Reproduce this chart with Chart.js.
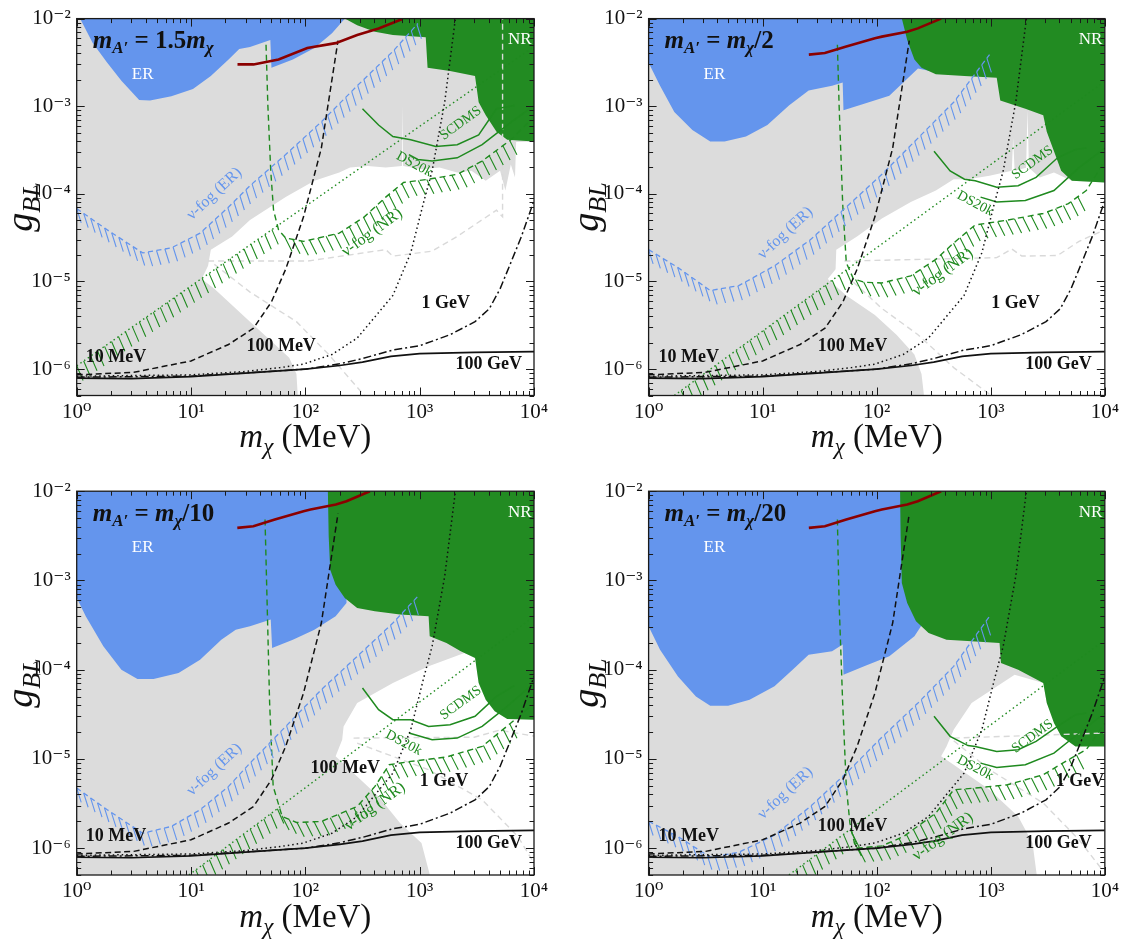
<!DOCTYPE html>
<html>
<head>
<meta charset="utf-8">
<title>g_BL sensitivity</title>
<script src="https://cdn.jsdelivr.net/npm/chart.js@4.4.1/dist/chart.umd.min.js"></script>
<style>
  html, body { margin: 0; padding: 0; background: #fff; }
  #wrap { position: relative; width: 1123px; height: 942px; overflow: hidden; }
  canvas { position: absolute; }
</style>
</head>
<body>
<div id="wrap">
  <canvas id="p1" width="561" height="470" style="left:0;top:0"></canvas>
  <canvas id="p2" width="562" height="470" style="left:561px;top:0"></canvas>
  <canvas id="p3" width="561" height="472" style="left:0;top:470px"></canvas>
  <canvas id="p4" width="562" height="472" style="left:561px;top:470px"></canvas>
</div>
<script>
const SERIF = '"Liberation Serif", "DejaVu Serif", serif';
const GREY = '#dcdcdc', BLUE = '#6495ed', GREEN = '#228b22', LINEGREEN = '#1f8a1f';
const RED = '#8b0000', LIGHT = '#d9d9d9', INK = '#111';

const xTicks = [1, 10, 100, 1000, 10000];
const yTicks = [1e-6, 1e-5, 1e-4, 1e-3, 1e-2];

// curves shared by all four panels (x in MeV, y = g_BL)
const dm10MeV = [[1,8.6e-7],[3.16,9.2e-7],[10,1.24e-6],[21.3,1.91e-6],[35.2,2.93e-6],[50.5,5.84e-6],[67.3,1.38e-5],[96.4,5.47e-5],[138,3.33e-4],[193,5.6e-3]];
const dm100MeV = [[1,8.3e-7],[10,8.6e-7],[30,9.4e-7],[60,1.04e-6],[96,1.14e-6],[171,1.47e-6],[284,2.26e-6],[583,6.93e-6],[835,2.12e-5],[1075,7.73e-5],[1285,1.83e-4],[1655,1.11e-3],[2053,1e-2]];
const dm1GeV = [[1,8.1e-7],[10,8.3e-7],[100,1.0e-6],[200,1.15e-6],[316,1.32e-6],[583,1.65e-6],[1000,1.85e-6],[1845,2.47e-6],[3050,3.48e-6],[4070,4.9e-6],[5050,8.24e-6],[6270,1.64e-5],[7770,3.27e-5],[10000,8.4e-5]];
const dm100GeV = [[1,7.9e-7],[3,7.8e-7],[10,8.2e-7],[30,9.0e-7],[100,1.0e-6],[200,1.1e-6],[316,1.2e-6],[560,1.4e-6],[1000,1.5e-6],[3000,1.55e-6],[10000,1.58e-6]];
const redLine = [[25.4,3.88e-3],[35.1,4.04e-3],[54.1,4.81e-3],[96.4,5.97e-3],[111,6.23e-3],[185,7.08e-3],[229,7.73e-3],[367,1e-2]];

// panel 1: m_A' = 1.5 m_chi
const redLine1 = [[25.5,3.0e-3],[35.2,3.0e-3],[58.3,3.41e-3],[104,4.61e-3],[184,5.25e-3],[284,6.5e-3],[437,7.73e-3],[698,9.84e-3]];
const grey1 = [[1,1.2e-2],[10000,1.2e-2],[10000,3.96e-4],[6980,3.9e-4],[6820,1.54e-4],[6270,2.17e-4],[5620,1.09e-4],[5050,1.83e-4],[3780,1.41e-4],[2840,1.83e-4],[2130,1.75e-4],[1490,2.0e-4],[1040,1.91e-4],[716,2.08e-4],[708,1.02e-3],[700,2.08e-4],[505,2.0e-4],[352,2.08e-4],[246,2.0e-4],[198,1.75e-4],[120,1.41e-4],[67.3,9.18e-5],[32.8,5.02e-5],[22.9,3.27e-5],[14.9,2.31e-5],[14.1,1.51e-5],[12.4,1.07e-5],[16.0,8.24e-6],[32.8,3.48e-6],[50.5,2.08e-6],[72.3,1.35e-6],[83.6,8.79e-7],[86.7,4e-7],[1,4e-7]];
const er1 = [[1.07,1.2e-2],[1.07,1e-2],[1.38,5.25e-3],[1.85,3.13e-3],[2.46,1.95e-3],[3.52,1.18e-3],[4.38,1.16e-3],[6.73,1.3e-3],[10.4,1.57e-3],[14.9,2.22e-3],[21.3,3.41e-3],[26.4,4.49e-3],[32.8,4.73e-3],[49.4,5.71e-3],[50.5,2.75e-3],[77.8,3.41e-3],[120,4.61e-3],[171,6.79e-3],[222,1e-2],[222,1.2e-2]];
const nr1 = [[10000,1.2e-2],[221,1.2e-2],[221,1e-2],[284,8.41e-3],[406,7.08e-3],[583,6.5e-3],[1130,6.12e-3],[1172,2.75e-3],[1845,2.52e-3],[3048,2.22e-3],[3281,1.11e-3],[3784,7.89e-4],[4699,5.13e-4],[5834,4.14e-4],[10000,3.96e-4]];
const nrFog1 = [[45.3,5.02e-3],[47,1.02e-3],[49.8,1.83e-4],[52.7,6.5e-5],[58.3,3.88e-5],[67.3,3.13e-5],[96.4,2.87e-5],[198,3.56e-5],[328,5.47e-5],[505,9.18e-5],[723,1.35e-4],[1197,1.47e-4],[2130,1.67e-4],[3520,2.37e-4],[6270,4.14e-4],[10000,7.6e-4]];
const nrDot1 = [[1,1.09e-6],[10,8.9e-6],[100,7.2e-5],[1000,5.9e-4],[10000,4.8e-3]];
const erFog1 = [[1,6.79e-5],[1.85,3.88e-5],[3.78,2.12e-5],[6.73,2.42e-5],[12,3.56e-5],[21.3,7.08e-5],[32.8,1.24e-4],[67.3,2.81e-4],[138,6.64e-4],[284,1.71e-3],[583,4.23e-3],[964,8.79e-3]];
const scdms1 = [[316,9.37e-4],[437,6.1e-4],[583,4.51e-4],[835,4.14e-4],[1383,3.48e-4],[2130,3.64e-4],[3281,4.71e-4],[4700,9.37e-4],[6730,1.02e-3]];
const ds20k1 = [[805,2.81e-4],[964,2.47e-4],[1285,2.37e-4],[2130,2.58e-4],[3520,3.64e-4],[5830,6.1e-4],[10000,1.02e-3]];
const lightA1 = [[14.1,1.71e-5],[104,1.71e-5],[505,2.31e-5],[583,1.95e-5],[1285,2.22e-5],[2130,3.27e-5],[4700,6.5e-5],[5310,5.47e-5],[5310,1e-2]];
const lightB1 = [[16,1.57e-5],[32.8,7.57e-6],[83.6,3.48e-6],[160,1.47e-6],[328,5e-7]];

// panel 2: m_A' = m_chi / 2
const grey2 = [[1,1.2e-2],[10000,1.2e-2],[10000,1.35e-4],[5140,1.41e-4],[4450,1.54e-4],[3581,1.75e-4],[2685,1.54e-4],[2160,1.99e-4],[2100,9e-4],[2040,1.99e-4],[1618,1.83e-4],[1570,4.33e-4],[1528,1.83e-4],[975,1.61e-4],[632,1.47e-4],[473,1.47e-4],[330,1.09e-4],[199,8.07e-5],[111,5.25e-5],[67.2,3.27e-5],[44.2,2.31e-5],[43.6,1.38e-5],[37.2,1.07e-5],[54.1,6.93e-6],[96.4,4.14e-6],[149,2.47e-6],[214,1.47e-6],[247,8.79e-7],[265,4e-7],[1,4e-7]];
const er2 = [[1,1.2e-2],[1,3.13e-3],[1.26,1.71e-3],[1.68,8.61e-4],[2.42,5.36e-4],[3.47,3.96e-4],[4.63,3.96e-4],[7.14,4.51e-4],[11,6.1e-4],[17,1.02e-3],[25.3,1.51e-3],[40.6,1.71e-3],[50.3,1.87e-3],[51.1,8.97e-4],[77.6,1.07e-3],[129,1.32e-3],[230,2.7e-3],[300,2.5e-3],[300,1.2e-2]];
const nr2 = [[10000,1.2e-2],[166,1.2e-2],[166,1e-2],[185,5.71e-3],[214,3.41e-3],[247,2.75e-3],[330,2.31e-3],[588,2.22e-3],[1127,2.12e-3],[1211,1.16e-3],[2010,9.37e-4],[2884,7.89e-4],[3097,5.13e-4],[3581,3.06e-4],[4140,1.83e-4],[5140,1.41e-4],[10000,1.35e-4]];
const nrFog2 = [[45.2,5.02e-3],[46.8,1.02e-3],[50.3,7.73e-5],[54.1,1.64e-5],[62.5,1.07e-5],[77.6,9.8e-6],[111,9.62e-6],[199,1.16e-5],[330,1.79e-5],[473,2.75e-5],[730,4.42e-5],[1400,5.02e-5],[2884,5.97e-5],[4790,7.73e-5],[6870,1.09e-4],[10000,2.38e-4]];
const nrDot2 = [[1.68,5e-7],[10,2.72e-6],[100,2.43e-5],[1000,2.16e-4],[10000,1.93e-3]];
const erFog2 = [[1,2.31e-5],[1.81,1.44e-5],[3.47,7.89e-6],[6.18,8.97e-6],[12.7,1.51e-5],[26.2,3.0e-5],[54.1,7.08e-5],[111,1.67e-4],[230,4.33e-4],[473,1.11e-3],[975,3.88e-3]];
const scdms2 = [[318,3.06e-4],[440,1.83e-4],[588,1.47e-4],[730,1.41e-4],[1127,1.19e-4],[1738,1.24e-4],[2495,1.54e-4],[3850,2.58e-4],[5530,3.2e-4],[6870,3.33e-4]];
const ds20k2 = [[814,9.18e-5],[1127,8.07e-5],[2010,8.41e-5],[3581,1.09e-4],[5940,1.99e-4],[10000,3.33e-4]];
const lightA2 = [[52.1,1.71e-5],[1127,1.87e-5],[1528,2.35e-5],[1870,1.95e-5],[3850,1.98e-5],[5940,2.87e-5],[10000,3.9e-5]];
const lightB2 = [[62.5,9.8e-6],[111,4.92e-6],[230,2.47e-6],[473,1.04e-6],[1010,5e-7]];

// panel 3: m_A' = m_chi / 10
const grey3 = [[1,1.2e-2],[10000,1.2e-2],[10000,2.75e-5],[3784,4.61e-5],[3281,7.08e-5],[3050,1.41e-4],[2460,1.54e-4],[1197,1.09e-4],[583,7.08e-5],[284,4.23e-5],[216,2.31e-5],[210,1.64e-5],[184,1.07e-5],[284,6.37e-6],[437,3.8e-6],[673,1.91e-6],[1037,1.14e-6],[1285,4e-7],[1,4e-7]];
const er3 = [[1,1.2e-2],[1,6.4e-4],[1.2,3.96e-4],[1.71,1.83e-4],[2.46,1.0e-4],[3.4,7.85e-5],[4.7,7.85e-5],[7.78,9.18e-5],[12,1.29e-4],[18.4,2.17e-4],[24.6,2.81e-4],[32.8,3.06e-4],[49.8,3.64e-4],[51.2,1.75e-4],[77.8,2.17e-4],[120,2.81e-4],[184,3.96e-4],[229,5.6e-4],[229,1.2e-2]];
const nr3 = [[10000,1.2e-2],[157,1.2e-2],[160,3.13e-3],[165,1.32e-3],[184,8.97e-4],[221,6.37e-4],[284,4.92e-4],[406,4.51e-4],[673,4.14e-4],[1197,3.96e-4],[1224,2.37e-4],[1714,1.99e-4],[2287,1.61e-4],[3050,1.35e-4],[3281,7.08e-5],[3784,4.61e-5],[4530,3.41e-5],[5830,2.8e-5],[10000,2.75e-5]];
const nrFog3 = [[44.4,4.81e-3],[46.3,5.6e-4],[48.7,4.23e-5],[52.3,4.92e-6],[62.7,2.26e-6],[83.6,1.94e-6],[138,1.99e-6],[284,2.93e-6],[406,4.92e-6],[542,8.61e-6],[835,9.37e-6],[1714,1.05e-5],[3520,1.38e-5],[6270,2.52e-5],[10000,4.2e-5]];
const nrDot3 = [[9.6,5e-7],[100,4.75e-6],[1000,4.34e-5],[10000,3.95e-4]];
const erFog3 = [[1,4.71e-6],[1.85,2.69e-6],[3.78,1.47e-6],[6.73,1.75e-6],[12,2.69e-6],[21.3,4.92e-6],[32.8,8.97e-6],[67.3,2.31e-5],[138,5.97e-5],[284,1.41e-4],[583,3.33e-4],[964,6.64e-4]];
const scdms3 = [[316,6.22e-5],[437,3.56e-5],[583,2.75e-5],[835,2.75e-5],[1197,2.31e-5],[1845,2.42e-5],[3050,3.0e-5],[4700,5.02e-5],[6730,6.62e-5]];
const ds20k3 = [[805,1.95e-5],[1285,1.64e-5],[2130,1.71e-5],[3520,2.31e-5],[5830,3.88e-5],[10000,7.08e-5]];
const lightA3 = [[264,1.71e-5],[3000,1.75e-5],[5000,2.1e-5],[10000,1.8e-5]];
const lightB3 = [[284,1.5e-5],[1197,7.57e-6],[3520,3.48e-6],[7230,1.35e-6],[10000,6.8e-7]];

// panel 4: m_A' = m_chi / 20
const grey4 = [[1,1.2e-2],[10000,1.2e-2],[10000,1.38e-5],[4140,1.79e-5],[3097,4.23e-5],[2884,7.08e-5],[1618,8.79e-5],[679,4.23e-5],[473,2.12e-5],[409,1.38e-5],[367,1.07e-5],[473,8.61e-6],[975,4.51e-6],[1738,2.26e-6],[2323,1.14e-6],[2588,4e-7],[1,4e-7]];
const er4 = [[1,1.2e-2],[1,3.06e-4],[1.26,1.67e-4],[1.81,8.41e-5],[2.6,5.02e-5],[3.47,3.94e-5],[4.98,3.94e-5],[7.68,4.61e-5],[12.7,6.5e-5],[18.3,1.0e-4],[25.3,1.47e-4],[40.6,1.61e-4],[50.3,1.91e-4],[51.1,8.79e-5],[77.6,1.09e-4],[129,1.41e-4],[214,2.37e-4],[250,3.2e-4],[250,1.2e-2]];
const nr4 = [[10000,1.2e-2],[160,1.2e-2],[162,3.13e-3],[166,9.37e-4],[185,5.6e-4],[221,3.48e-4],[285,2.58e-4],[409,2.17e-4],[679,2.08e-4],[1194,1.99e-4],[1228,1.19e-4],[1738,1.0e-4],[2884,7.08e-5],[3097,4.23e-5],[3581,2.52e-5],[4140,1.79e-5],[5530,1.38e-5],[10000,1.38e-5]];
const nrFog4 = [[45.2,4.81e-3],[46.8,5.6e-4],[50.3,4.23e-5],[54.1,4.92e-6],[58.2,1.91e-6],[64.8,1.04e-6],[67.2,1.0e-6],[111,1.06e-6],[172,1.35e-6],[330,2.47e-6],[473,4.51e-6],[730,4.71e-6],[1400,5.13e-6],[2884,6.64e-6],[4790,9.8e-6],[6870,1.27e-5],[10000,2.5e-5]];
const nrDot4 = [[17,5e-7],[100,2.7e-6],[1000,2.41e-5],[10000,2.15e-4]];
const erFog4 = [[1,2.0e-6],[1.81,1.35e-6],[3.47,7.9e-7],[6.18,9.0e-7],[12.7,1.4e-6],[26.2,2.93e-6],[54.1,6.93e-6],[111,1.75e-5],[230,4.23e-5],[473,1.09e-4],[975,3.96e-4]];
const scdms4 = [[318,3.0e-5],[440,1.79e-5],[631,1.41e-5],[730,1.38e-5],[1127,1.21e-5],[1738,1.27e-5],[2495,1.57e-5],[3850,2.31e-5],[5530,3.13e-5],[6870,3.27e-5]];
const ds20k4 = [[814,8.97e-6],[1127,8.03e-6],[2010,8.61e-6],[3581,1.16e-5],[5940,1.95e-5],[10000,3.27e-5]];
const lightA4 = [[473,1.71e-5],[10000,1.95e-5]];
const lightB4 = [[473,1.6e-5],[975,7.57e-6],[2884,3.2e-6],[5940,1.24e-6],[9500,5.7e-7]];

// dark matter mass labels, one list per panel: [text, x, y] (left edge, middle)
const massLabels1 = [['10 MeV',1.2,1.35e-6],['100 MeV',30.5,1.83e-6],['1 GeV',1037,5.6e-6],['100 GeV',2053,1.14e-6]];
const massLabels2 = [['10 MeV',1.22,1.35e-6],['100 MeV',30.4,1.83e-6],['1 GeV',1012,5.6e-6],['100 GeV',2010,1.14e-6]];
const massLabels3 = [['10 MeV',1.2,1.35e-6],['100 MeV',111,7.9e-6],['1 GeV',1000,5.6e-6],['100 GeV',2053,1.14e-6]];
const massLabels4 = [['10 MeV',1.22,1.35e-6],['100 MeV',30.4,1.75e-6],['1 GeV',3715,5.6e-6],['100 GeV',2010,1.14e-6]];

const panels = [
  { id: 'p1', ratio: [' = 1.5', 'm', 'χ', ''], left: 76.7, right: 534, top: 12.7, bottom: 395.5, yTitleX: 22,
    grey: grey1, er: er1, nr: nr1, nrFog: nrFog1, nrDot: nrDot1, dotTo: 58, erFog: erFog1, scdms: scdms1, ds20k: ds20k1,
    lightA: lightA1, lightB: lightB1, red: redLine1, masses: massLabels1,
    scdmsAt: [2290, 6.4e-4], ds20kAt: [897, 2.17e-4], erFogAt: [16, 1.0e-4], nrFogAt: [384, 3.62e-5] },
  { id: 'p2', ratio: [' = ', 'm', 'χ', '/2'], left: 87.6, right: 544, top: 12.7, bottom: 395.5, yTitleX: 27,
    grey: grey2, er: er2, nr: nr2, nrFog: nrFog2, nrDot: nrDot2, dotTo: 55, erFog: erFog2, scdms: scdms2, ds20k: ds20k2,
    lightA: lightA2, lightB: lightB2, red: redLine, masses: massLabels2,
    scdmsAt: [2320, 2.27e-4], ds20kAt: [730, 7.73e-5], erFogAt: [15.8, 3.56e-5], nrFogAt: [380, 1.27e-5] },
  { id: 'p3', ratio: [' = ', 'm', 'χ', '/10'], left: 76.7, right: 534, top: 21.2, bottom: 405, yTitleX: 22,
    grey: grey3, er: er3, nr: nr3, nrFog: nrFog3, nrDot: nrDot3, dotTo: 62, erFog: erFog3, scdms: scdms3, ds20k: ds20k3,
    lightA: lightA3, lightB: lightB3, red: redLine, masses: massLabels3,
    scdmsAt: [2290, 4.23e-5], ds20kAt: [724, 1.51e-5], erFogAt: [16, 7.57e-6], nrFogAt: [407, 2.93e-6] },
  { id: 'p4', ratio: [' = ', 'm', 'χ', '/20'], left: 87.6, right: 544, top: 21.2, bottom: 405, yTitleX: 27,
    grey: grey4, er: er4, nr: nr4, nrFog: nrFog4, nrDot: nrDot4, dotTo: 60, erFog: erFog4, scdms: scdms4, ds20k: ds20k4,
    lightA: lightA4, lightB: lightB4, red: redLine, masses: massLabels4,
    scdmsAt: [2320, 1.79e-5], ds20kAt: [730, 7.9e-6], erFogAt: [15.8, 4.14e-6], nrFogAt: [380, 1.35e-6] }
];

function toXY(a) { return a.map(p => ({ x: p[0], y: p[1] })); }

function region(data, color, order) {
  return { data: toXY(data), fill: 'shape', backgroundColor: color, borderColor: color, borderWidth: 0, pointRadius: 0, order: order };
}
function curve(data, color, width, dash, order, hatch) {
  return { data: toXY(data), fill: false, borderColor: color, borderWidth: width, borderDash: dash,
           borderCapStyle: 'butt', pointRadius: 0, order: order, hatch: hatch };
}

function buildDatasets(p) {
  return [
    region(p.grey, GREY, 20),
    region(p.er, BLUE, 19),
    region(p.nr, GREEN, 18),
    curve(p.lightA, LIGHT, 1.4, [6, 4], 17),
    curve(p.lightB, LIGHT, 1.4, [6, 4], 17),
    curve(p.nrDot, LINEGREEN, 1.4, [1.5, 3], 10, { to: p.dotTo, dx: 0.4, dy: 0.92, len: 16, gap: 8.5 }),
    curve(p.nrFog, LINEGREEN, 1.4, [6, 4], 9, { from: 60, to: 6500, dx: 0.45, dy: 0.89, len: 16, gap: 8.5 }),
    curve(p.erFog, BLUE, 1.3, [5, 3.5], 8, { dx: 0.3, dy: 0.95, len: 15, gap: 8.5 }),
    curve(p.scdms, LINEGREEN, 1.5, [], 7),
    curve(p.ds20k, LINEGREEN, 1.5, [], 7),
    curve(dm10MeV, INK, 1.5, [6, 3.5], 4),
    curve(dm100MeV, INK, 1.5, [1.5, 3], 4),
    curve(dm1GeV, INK, 1.5, [8, 3, 2, 3], 4),
    curve(dm100GeV, INK, 1.7, [], 3),
    curve(p.red, RED, 2.6, [], 1)
  ];
}

const SUP = { '-': '⁻', '0': '⁰', '1': '¹', '2': '²', '3': '³', '4': '⁴', '5': '⁵', '6': '⁶', '7': '⁷', '8': '⁸', '9': '⁹' };
function powLabel(v) {
  const e = Math.round(Math.log10(v));
  return '10' + String(e).split('').map(c => SUP[c]).join('');
}

// tick positions for the inward tick marks (1..9 per decade)
function logMarks(min, max) {
  const out = [];
  for (let e = Math.floor(Math.log10(min)); e <= Math.ceil(Math.log10(max)); e++) {
    for (let k = 1; k <= 9; k++) {
      const v = k * Math.pow(10, e);
      if (v >= min * 0.999 && v <= max * 1.001) out.push({ v: v, major: k === 1 });
    }
  }
  return out;
}

// short ticks along a curve, as in the neutrino-fog bands
const hatchPlugin = {
  id: 'hatch',
  afterDatasetDraw(chart, args) {
    const ds = chart.data.datasets[args.index];
    const h = ds.hatch;
    if (!h) return;
    const pts = args.meta.data;
    const xs = chart.scales.x;
    const a = chart.chartArea;
    const ctx = chart.ctx;
    const from = h.from || 0, to = h.to || 1e9;
    ctx.save();
    ctx.beginPath();
    ctx.rect(a.left, a.top, a.right - a.left, a.bottom - a.top);
    ctx.clip();
    ctx.strokeStyle = ds.borderColor;
    ctx.lineWidth = 1.1;
    ctx.beginPath();
    let t = 0;
    for (let i = 1; i < pts.length; i++) {
      const p0 = pts[i - 1], p1 = pts[i];
      const seg = Math.hypot(p1.x - p0.x, p1.y - p0.y);
      while (t < seg) {
        const px = p0.x + (p1.x - p0.x) * t / seg;
        const py = p0.y + (p1.y - p0.y) * t / seg;
        const v = xs.getValueForPixel(px);
        if (v >= from && v <= to) {
          ctx.moveTo(px, py);
          ctx.lineTo(px + h.dx * h.len, py + h.dy * h.len);
        }
        t += h.gap;
      }
      t -= seg;
    }
    ctx.stroke();
    ctx.restore();
  }
};

function drawRich(ctx, parts, x, y, align) {
  let w = 0;
  for (const p of parts) { ctx.font = p.font; w += ctx.measureText(p.t).width; }
  let cx = align === 'center' ? x - w / 2 : x;
  for (const p of parts) {
    ctx.font = p.font;
    ctx.fillText(p.t, cx, y + (p.dy || 0));
    cx += ctx.measureText(p.t).width;
  }
}

const notesPlugin = {
  id: 'notes',
  afterDatasetsDraw(chart) {
    const p = panels.find(q => q.id === chart.canvas.id);
    const { ctx, chartArea: a } = chart;
    const xs = chart.scales.x, ys = chart.scales.y;
    const X = v => xs.getPixelForValue(v), Y = v => ys.getPixelForValue(v);
    ctx.save();
    ctx.beginPath();
    ctx.rect(a.left, a.top, a.right - a.left, a.bottom - a.top);
    ctx.clip();
    ctx.textBaseline = 'middle';

    // region names
    ctx.fillStyle = '#fff';
    ctx.font = '17px ' + SERIF;
    ctx.textAlign = 'center';
    ctx.fillText('ER', X(3.78), Y(2.31e-3));
    ctx.fillText('NR', X(7500), Y(5.7e-3));

    // mass labels
    ctx.fillStyle = INK;
    ctx.textAlign = 'left';
    ctx.font = 'bold 18px ' + SERIF;
    for (const m of p.masses) ctx.fillText(m[0], X(m[1]), Y(m[2]));

    // rotated curve labels
    const rot = (text, at, deg, color, size) => {
      ctx.save();
      ctx.translate(X(at[0]), Y(at[1]));
      ctx.rotate(deg * Math.PI / 180);
      ctx.fillStyle = color;
      ctx.font = size + 'px ' + SERIF;
      ctx.textAlign = 'center';
      ctx.fillText(text, 0, 0);
      ctx.restore();
    };
    rot('SCDMS', p.scdmsAt, -36, LINEGREEN, 14);
    rot('DS20k', p.ds20kAt, 28, LINEGREEN, 14);
    rot('ν-fog (ER)', p.erFogAt, -43, BLUE, 16);
    rot('ν-fog (NR)', p.nrFogAt, -36, LINEGREEN, 16);

    // panel title
    ctx.fillStyle = INK;
    ctx.textAlign = 'left';
    ctx.textBaseline = 'alphabetic';
    const bi = 'bold italic 25px ' + SERIF, bis = 'bold italic 17px ' + SERIF, b = 'bold 25px ' + SERIF;
    drawRich(ctx, [
      { t: 'm', font: bi }, { t: 'A′', font: bis, dy: 5 },
      { t: p.ratio[0], font: b }, { t: p.ratio[1], font: bi }, { t: p.ratio[2], font: bis, dy: 5 },
      { t: p.ratio[3], font: b }
    ], X(1.38), Y(5.7e-3) + 8, 'left');
    ctx.restore();

    // axis titles
    ctx.save();
    ctx.fillStyle = INK;
    ctx.textAlign = 'left';
    ctx.textBaseline = 'alphabetic';
    drawRich(ctx, [
      { t: 'm', font: 'italic 33px ' + SERIF },
      { t: 'χ', font: 'italic 23px ' + SERIF, dy: 7 },
      { t: ' (MeV)', font: '33px ' + SERIF }
    ], (a.left + a.right) / 2, a.bottom + 51.5, 'center');
    ctx.translate(p.yTitleX, (a.top + a.bottom) / 2);
    ctx.rotate(-Math.PI / 2);
    drawRich(ctx, [
      { t: 'g', font: 'italic 38px ' + SERIF },
      { t: 'BL', font: 'italic 26px ' + SERIF, dy: 8 }
    ], 0, 10, 'center');
    ctx.restore();
  }
};

const framePlugin = {
  id: 'frame',
  afterDraw(chart) {
    const { ctx, chartArea: a } = chart;
    const xs = chart.scales.x, ys = chart.scales.y;
    ctx.save();
    ctx.strokeStyle = '#1a1a1a';
    ctx.lineWidth = 1;
    ctx.beginPath();
    for (const m of logMarks(xs.min, xs.max)) {
      const px = Math.round(xs.getPixelForValue(m.v)) + 0.5;
      const len = m.major ? 8 : 4.5;
      ctx.moveTo(px, a.bottom); ctx.lineTo(px, a.bottom - len);
      ctx.moveTo(px, a.top); ctx.lineTo(px, a.top + len);
    }
    for (const m of logMarks(ys.min, ys.max)) {
      const py = Math.round(ys.getPixelForValue(m.v)) + 0.5;
      const len = m.major ? 8 : 4.5;
      ctx.moveTo(a.left, py); ctx.lineTo(a.left + len, py);
      ctx.moveTo(a.right, py); ctx.lineTo(a.right - len, py);
    }
    ctx.stroke();
    ctx.lineWidth = 1.3;
    ctx.strokeRect(a.left, a.top, a.right - a.left, a.bottom - a.top);
    ctx.restore();
  }
};

function makeChart(p) {
  const cv = document.getElementById(p.id);
  return new Chart(cv, {
    type: 'line',
    data: { datasets: buildDatasets(p) },
    options: {
      responsive: false,
      animation: false,
      events: [],
      layout: { padding: { left: 0, top: p.top, right: cv.width - p.right, bottom: 0 } },
      plugins: { legend: { display: false }, tooltip: { enabled: false } },
      elements: { line: { tension: 0 } },
      scales: {
        x: {
          type: 'logarithmic', min: 1, max: 1e4,
          afterBuildTicks: s => { s.ticks = xTicks.map(v => ({ value: v })); },
          afterFit: s => { s.height = cv.height - p.bottom; },
          grid: { display: false, drawTicks: false },
          border: { display: false },
          ticks: { autoSkip: false, maxRotation: 0, padding: 4, color: INK,
                   font: { family: SERIF, size: 21 }, callback: v => powLabel(v) }
        },
        y: {
          type: 'logarithmic', min: 5e-7, max: 1e-2,
          afterBuildTicks: s => { s.ticks = yTicks.map(v => ({ value: v })); },
          afterFit: s => { s.width = p.left; },
          grid: { display: false, drawTicks: false },
          border: { display: false },
          ticks: { autoSkip: false, padding: 6, color: INK,
                   font: { family: SERIF, size: 21 }, callback: v => powLabel(v) }
        }
      }
    },
    plugins: [hatchPlugin, notesPlugin, framePlugin]
  });
}

panels.forEach(makeChart);
</script>
</body>
</html>
